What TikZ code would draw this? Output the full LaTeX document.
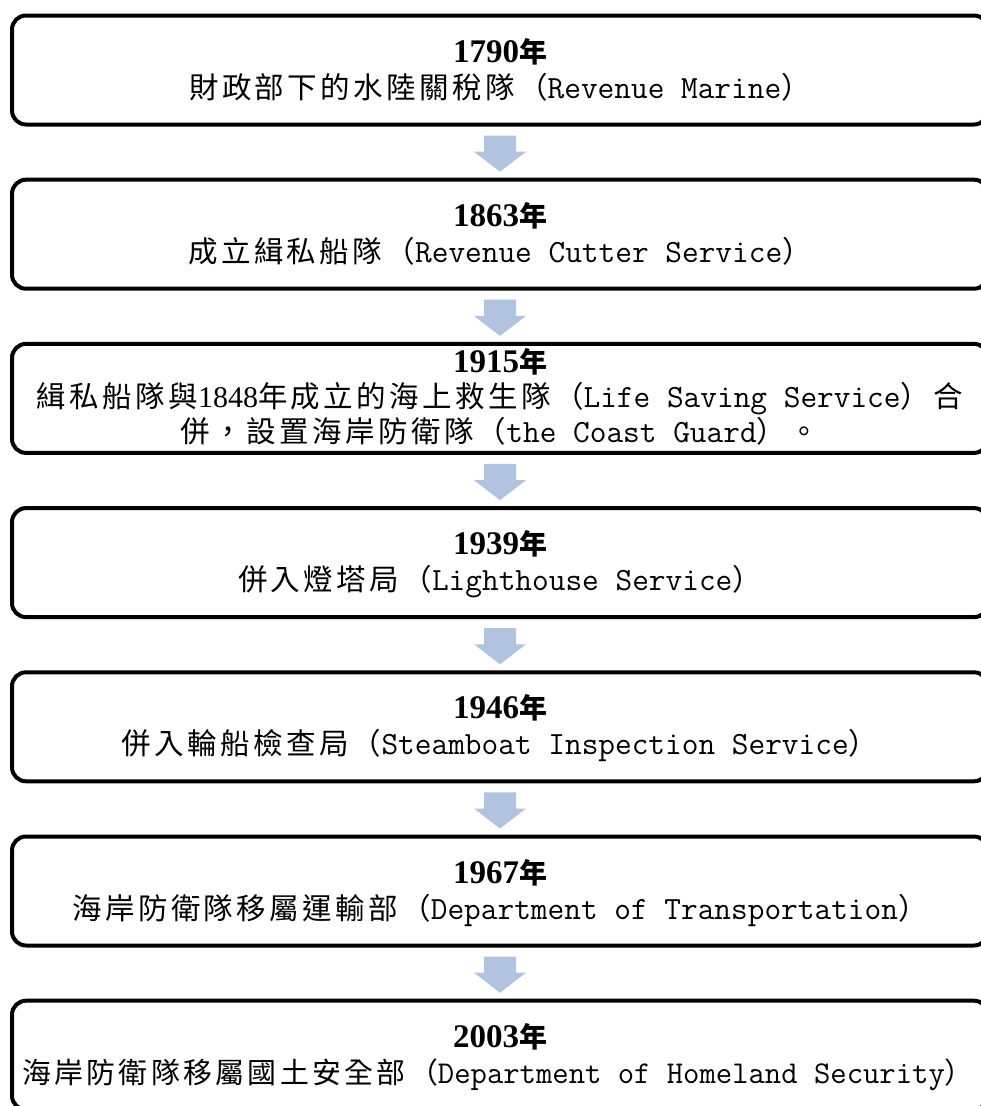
\documentclass[tikz,border=0pt]{standalone}
\usepackage{fontspec}
\setmainfont{Liberation Serif}
\newfontfamily\cjkfont[LetterSpace=11.5]{Noto Sans CJK TC}
\usetikzlibrary{calc}
\definecolor{arrowc}{HTML}{B2C3DF}
\tikzset{
  stagebox/.style={draw=black, line width=4pt, rounded corners=14pt, minimum width=976pt, minimum height=109pt, inner sep=0pt, fill=white},
  txt/.style={anchor=base, inner sep=0pt, outer sep=0pt, text=black},
  flowarrow/.style={fill=arrowc, draw=none}
}
\newcommand\zh[1]{{\cjkfont\fontsize{29.5}{35}\selectfont #1}}
\newcommand\en[1]{{\ttfamily\fontsize{32.4}{35}\selectfont #1}}
\newcommand\nm[1]{{\fontsize{30}{35}\selectfont #1}}
\newcommand\yr[1]{{\bfseries\fontsize{33}{40}\selectfont #1{\cjkfont\fontsize{28}{40}\selectfont 年}}}
\begin{document}
\begin{tikzpicture}[x=1pt,y=-1pt]
\useasboundingbox (0,0) rectangle (981,1106);
\fill[white] (0,0) rectangle (981,1106);
\clip (0,0) rectangle (981,1106);

\node[stagebox] (b1) at (500,70) {};
\node[stagebox] (b2) at (500,234.2) {};
\node[stagebox] (b3) at (500,398.4) {};
\node[stagebox] (b4) at (500,562.6) {};
\node[stagebox] (b5) at (500,726.8) {};
\node[stagebox] (b6) at (500,891) {};
\node[stagebox] (b7) at (500,1055.2) {};

\foreach \a/\b in {b1/b2,b2/b3,b3/b4,b4/b5,b5/b6,b6/b7}{
  \fill[flowarrow] ($(\a.south)+(-16,9)$) -- ($(\a.south)+(16,9)$) -- ($(\b.north)+(16,-26)$) -- ($(\b.north)+(26,-26)$) -- ($(\b.north)+(0,-6)$) -- ($(\b.north)+(-26,-26)$) -- ($(\b.north)+(-16,-26)$) -- cycle;
}

\node[txt] (y1) at ($(b1.center)+(0,-8)$) {\yr{1790}};
\node[txt] (l1) at ($(b1.center)+(0,28)$) {\zh{財政部下的水陸關稅隊（}\en{Revenue Marine}\zh{）}};

\node[txt] (y2) at ($(b2.center)+(0,-8)$) {\yr{1863}};
\node[txt] (l2) at ($(b2.center)+(0,28)$) {\zh{成立緝私船隊（}\en{Revenue Cutter Service}\zh{）}};

\node[txt] (y3) at ($(b3.center)+(0,-25.5)$) {\yr{1915}};
\node[txt] (l3a) at ($(b3.center)+(0,9.5)$) {\zh{緝私船隊與}\nm{1848}\zh{年成立的海上救生隊（}\en{Life Saving Service}\zh{）合}};
\node[txt] (l3b) at ($(b3.center)+(0,44.5)$) {\zh{併，設置海岸防衛隊（}\en{the Coast Guard}\zh{）。}};

\node[txt] (y4) at ($(b4.center)+(0,-8)$) {\yr{1939}};
\node[txt] (l4) at ($(b4.center)+(0,28)$) {\zh{併入燈塔局（}\en{Lighthouse Service}\zh{）}};

\node[txt] (y5) at ($(b5.center)+(0,-8)$) {\yr{1946}};
\node[txt] (l5) at ($(b5.center)+(0,28)$) {\zh{併入輪船檢查局（}\en{Steamboat Inspection Service}\zh{）}};

\node[txt] (y6) at ($(b6.center)+(0,-8)$) {\yr{1967}};
\node[txt] (l6) at ($(b6.center)+(0,28)$) {\zh{海岸防衛隊移屬運輸部（}\en{Department of Transportation}\zh{）}};

\node[txt] (y7) at ($(b7.center)+(0,-8)$) {\yr{2003}};
\node[txt, scale=0.98] (l7) at ($(b7.center)+(-2,28)$) {\zh{海岸防衛隊移屬國土安全部（}\en{Department of Homeland Security}\zh{）}};
\end{tikzpicture}
\end{document}
